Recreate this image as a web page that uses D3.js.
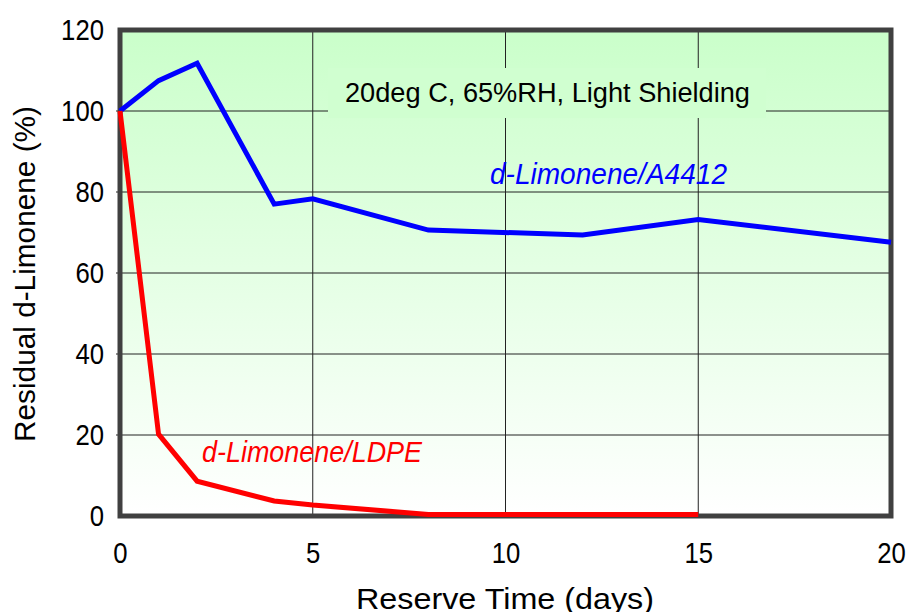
<!DOCTYPE html>
<html>
<head>
<meta charset="utf-8">
<script src="https://cdn.jsdelivr.net/npm/d3@7"></script>
<style>
  body { margin: 0; background: #fff; }
  svg { display: block; }
  text { font-family: "Liberation Sans Narrow", "Liberation Sans", sans-serif; }
</style>
</head>
<body>
<div id="chart"></div>
<script>
const width = 908;
const height = 612;

// data
const days = [0, 1, 2, 4, 5, 8, 12, 15, 20];
const a4412 = [100, 107.5, 111.8, 77, 78.3, 70.6, 69.4, 73.2, 67.6];
const ldpeDays = [0, 1, 2, 4, 5, 8, 12, 15];
const ldpe = [100, 20.2, 8.6, 3.7, 2.7, 0.4, 0.4, 0.4];
const xTicks = [0, 5, 10, 15, 20];
const yTicks = [0, 20, 40, 60, 80, 100, 120];

const plot = { left: 120, right: 891, top: 30, bottom: 516 };

const svg = d3
  .select("#chart")
  .append("svg")
  .attr("width", width)
  .attr("height", height);

let xScale = d3.scaleLinear().domain([0, 20]).range([plot.left, plot.right]);
let yScale = d3.scaleLinear().domain([0, 120]).range([plot.bottom, plot.top]);

/**
 * background gradient
 */
const grad = svg
  .append("defs")
  .append("linearGradient")
  .attr("id", "bg")
  .attr("x1", 0)
  .attr("y1", 0)
  .attr("x2", 0)
  .attr("y2", 1);
grad.append("stop").attr("offset", "0%").attr("stop-color", "#caffca");
grad.append("stop").attr("offset", "100%").attr("stop-color", "#ffffff");

svg
  .append("rect")
  .attr("x", plot.left)
  .attr("y", plot.top)
  .attr("width", plot.right - plot.left)
  .attr("height", plot.bottom - plot.top)
  .attr("fill", "url(#bg)");

/**
 * grid lines
 */
svg
  .append("g")
  .selectAll("line")
  .data(xTicks.slice(1, -1))
  .enter()
  .append("line")
  .attr("x1", (d) => xScale(d))
  .attr("x2", (d) => xScale(d))
  .attr("y1", plot.top)
  .attr("y2", plot.bottom)
  .attr("stroke", "#222")
  .attr("stroke-width", 1);

svg
  .append("g")
  .selectAll("line")
  .data(yTicks.slice(1, -1))
  .enter()
  .append("line")
  .attr("x1", plot.left - 4)
  .attr("x2", plot.right)
  .attr("y1", (d) => yScale(d))
  .attr("y2", (d) => yScale(d))
  .attr("stroke", "#222")
  .attr("stroke-width", 1);

// annotation box covers the grid, same tint as background there
svg
  .append("rect")
  .attr("x", 328)
  .attr("y", 68)
  .attr("width", 438)
  .attr("height", 50)
  .attr("fill", "#d0ffd0");

svg
  .append("text")
  .attr("x", 345)
  .attr("y", 102)
  .attr("font-size", 27)
  .attr("textLength", 405)
  .attr("lengthAdjust", "spacingAndGlyphs")
  .attr("fill", "#000")
  .text("20deg C, 65%RH, Light Shielding");

/**
 * frame
 */
svg
  .append("rect")
  .attr("x", plot.left)
  .attr("y", plot.top)
  .attr("width", plot.right - plot.left)
  .attr("height", plot.bottom - plot.top)
  .attr("fill", "none")
  .attr("stroke", "#404040")
  .attr("stroke-width", 5);

/**
 * axes
 */
let xAxis = d3.axisBottom(xScale).tickValues(xTicks).tickSize(0).tickPadding(26);
let yAxis = d3.axisLeft(yScale).tickValues(yTicks).tickSize(0).tickPadding(16);

const gx = svg
  .append("g")
  .attr("transform", `translate(0, ${plot.bottom})`)
  .call(xAxis);
const gy = svg
  .append("g")
  .attr("transform", `translate(${plot.left}, 0)`)
  .call(yAxis);

[gx, gy].forEach((g) => {
  g.select(".domain").remove();
  g.selectAll("text")
    .attr("font-family", "Liberation Sans Narrow, Liberation Sans, sans-serif")
    .attr("font-size", 30)
    .attr("fill", "#000")
    .attr("textLength", (d) => String(d).length * 14.3)
    .attr("lengthAdjust", "spacingAndGlyphs");
});

/**
 * lines
 */
const line = d3
  .line()
  .x((d) => xScale(d[0]))
  .y((d) => yScale(d[1]));

svg
  .append("path")
  .datum(d3.zip(days, a4412))
  .attr("d", line)
  .attr("fill", "none")
  .attr("stroke", "#0000ff")
  .attr("stroke-width", 5);

svg
  .append("path")
  .datum(d3.zip(ldpeDays, ldpe))
  .attr("d", line)
  .attr("fill", "none")
  .attr("stroke", "#ff0000")
  .attr("stroke-width", 5);

/**
 * series labels
 */
svg
  .append("text")
  .attr("x", 490)
  .attr("y", 184)
  .attr("font-size", 29)
  .attr("font-style", "italic")
  .attr("textLength", 237)
  .attr("lengthAdjust", "spacingAndGlyphs")
  .attr("fill", "#0000ff")
  .text("d-Limonene/A4412");

svg
  .append("text")
  .attr("x", 202)
  .attr("y", 462)
  .attr("font-size", 29)
  .attr("font-style", "italic")
  .attr("textLength", 220)
  .attr("lengthAdjust", "spacingAndGlyphs")
  .attr("fill", "#ff0000")
  .text("d-Limonene/LDPE");

/**
 * axis titles
 */
svg
  .append("text")
  .attr("x", 505)
  .attr("y", 609)
  .attr("text-anchor", "middle")
  .attr("font-size", 30)
  .attr("textLength", 298)
  .attr("lengthAdjust", "spacingAndGlyphs")
  .text("Reserve Time (days)");

svg
  .append("text")
  .attr("transform", "translate(35, 274) rotate(-90)")
  .attr("text-anchor", "middle")
  .attr("font-size", 30)
  .attr("textLength", 336)
  .attr("lengthAdjust", "spacingAndGlyphs")
  .text("Residual d-Limonene (%)");
</script>
</body>
</html>
